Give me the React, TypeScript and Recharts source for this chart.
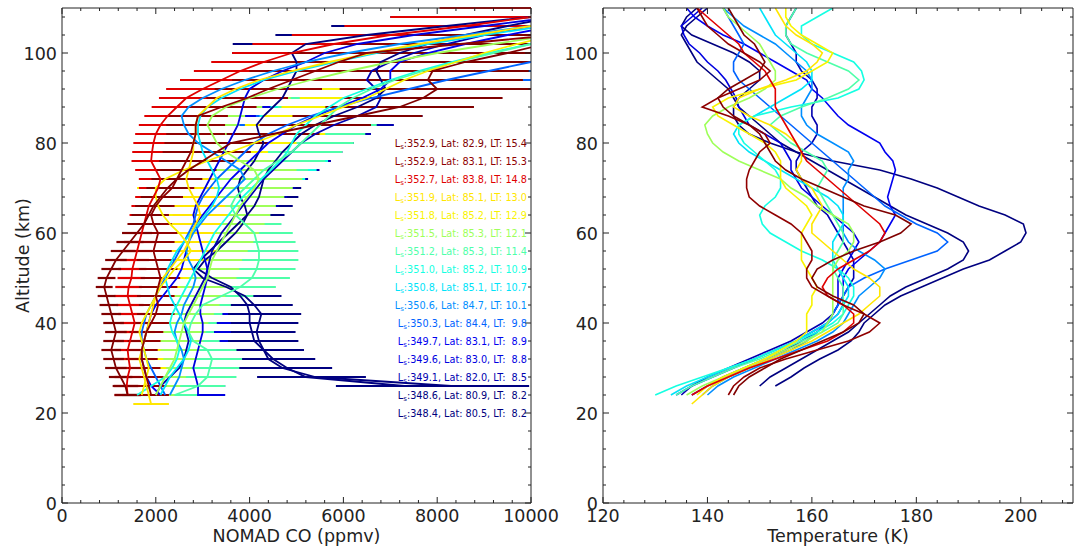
import React from 'react';
import { LineChart, Line, XAxis, YAxis, ErrorBar } from 'recharts';

// ---------- data ----------
const ALTS = [22, 24, 26, 28, 30, 32, 34, 36, 38, 40, 42, 44, 46, 48, 50, 52, 54, 56, 58, 60, 62, 64, 66, 68, 70, 72, 74, 76, 78, 80, 82, 84, 86, 88, 90, 92, 94, 96, 98, 100, 102, 104, 106, 108, 110];
// relative CO retrieval uncertainty per altitude level
const REL_ERR = [0.2, 0.2, 0.2, 0.2, 0.2, 0.2, 0.2, 0.2, 0.2, 0.2, 0.2, 0.2, 0.2, 0.2, 0.2, 0.2, 0.2, 0.2, 0.2, 0.2, 0.2, 0.2, 0.2, 0.2, 0.2, 0.22, 0.22, 0.22, 0.22, 0.22, 0.22, 0.22, 0.22, 0.22, 0.22, 0.26, 0.26, 0.26, 0.26, 0.26, 0.3, 0.3, 0.3, 0.3, 0.3];

const LS = ['352.9', '352.9', '352.7', '351.9', '351.8', '351.5', '351.2', '351.0', '350.8', '350.6', '350.3', '349.7', '349.6', '349.1', '348.6', '348.4'];
const LAT = ['82.9', '83.1', '83.8', '85.1', '85.2', '85.3', '85.3', '85.2', '85.1', '84.7', '84.4', '83.1', '83.0', '82.0', '80.9', '80.5'];
const LT = ['15.4', '15.3', '14.8', '13.0', '12.9', '12.1', '11.4', '10.9', '10.7', '10.1', ' 9.8', ' 8.9', ' 8.8', ' 8.5', ' 8.2', ' 8.2'];
const LEGEND_ALTS = [80, 76, 72, 68, 64, 60, 56, 52, 48, 44, 40, 36, 32, 28, 24, 20];
const COLORS = ['#800000', '#900000', '#e00000', '#ffe600', '#f9f300', '#9eff59', '#4effa9', '#15ffe2', '#00e3f9', '#008eff', '#0063ff', '#0000f0', '#0000e0', '#0000b0', '#000080', '#000080'];

const CO_START = [24, 24, 24, 22, 24, 24, 24, 24, 24, 24, 24, 24, 24, 24, 26, 26];
const CO_0 = [1400, 1350, 1250, 1150, 1100, 1050, 1100, 1150, 1100, 1050, 1000, 950, 900, 950, 1050, 1150, 1300, 1450, 1600, 1750, 1850, 1950, 2100, 2250, 2450, 2700, 3000, 3300, 3600, 4500, 5400, 6300, 7200, 7700, 8000, 7800, 7900, 8600, 9500, 10300, 11000];
const CO_1 = [1900, 1850, 1800, 1750, 1700, 1700, 1750, 1800, 1900, 2000, 2050, 2000, 2050, 2100, 2050, 2000, 1950, 2000, 2050, 1950, 1900, 2000, 2150, 2350, 2450, 2550, 2650, 2750, 2800, 2850, 2850, 2900, 3400, 3950, 4400, 4900, 5400, 5900, 6500, 8500, 10500];
const CO_2 = [1400, 1380, 1400, 1450, 1420, 1400, 1450, 1500, 1550, 1500, 1450, 1400, 1420, 1480, 1500, 1550, 1600, 1650, 1700, 1750, 1800, 1850, 1950, 2050, 2100, 2000, 1900, 1920, 1950, 2000, 2100, 2250, 2450, 2650, 3000, 3400, 3800, 4300, 4900, 5800, 7000, 8600, 10000, 11500];
const CO_3 = [1900, 1850, 1800, 1750, 1700, 1650, 1700, 1750, 1800, 1850, 1900, 1950, 2000, 2050, 2150, 2300, 2450, 2600, 2700, 2750, 2850, 2950, 2900, 2800, 2700, 2650, 2700, 2750, 2800, 2800, 2850, 2850, 2900, 3100, 3300, 3700, 4200, 4900, 5700, 6600, 7600, 8800, 10000];
const CO_4 = [1700, 1750, 1800, 1850, 1800, 1750, 1700, 1650, 1700, 1800, 1900, 2000, 2100, 2250, 2400, 2600, 2750, 2650, 2500, 2300, 2150, 2050, 2000, 2000, 2200, 2600, 3100, 3600, 4100, 4600, 5000, 5500, 6000, 6500, 6900, 7300, 7800, 8400, 9000, 9700, 10500];
const CO_5 = [2000, 2100, 2200, 2300, 2400, 2450, 2500, 2550, 2600, 2700, 2800, 2900, 3000, 3100, 3150, 3200, 3300, 3400, 3500, 3600, 3700, 3800, 3950, 4100, 4200, 4100, 3800, 3500, 3300, 3200, 3100, 3200, 3500, 4000, 4600, 5300, 6100, 7000, 8000, 9200, 10500];
const CO_6 = [2400, 2900, 3100, 3150, 3200, 3100, 2800, 2700, 2750, 2850, 3000, 3400, 3800, 4050, 4150, 4200, 4200, 4150, 4100, 3900, 3700, 3600, 3700, 3900, 4100, 4300, 4600, 4900, 5100, 5300, 5500, 5700, 5900, 6200, 6600, 7100, 7700, 8400, 9200, 10000];
const CO_7 = [1600, 1900, 2200, 2350, 2450, 2500, 2450, 2350, 2300, 2350, 2450, 2550, 2650, 2750, 2850, 2950, 3050, 3150, 3250, 3400, 3550, 3700, 3850, 4050, 4250, 4450, 4650, 4800, 4900, 5000, 5200, 5400, 5700, 6000, 6500, 7000, 7600, 8300, 9100, 10000];
const CO_8 = [2100, 2200, 2300, 2450, 2600, 2700, 2750, 2700, 2600, 2500, 2400, 2300, 2250, 2200, 2250, 2350, 2450, 2600, 2750, 2900, 3050, 3200, 3300, 3350, 3300, 3200, 3100, 3000, 2950, 2900, 2900, 2950, 3100, 3400, 3800, 4300, 5000, 5800, 6700, 7800, 9000, 10300];
const CO_9 = [2300, 2400, 2500, 2550, 2600, 2550, 2450, 2400, 2450, 2550, 2600, 2700, 2800, 2850, 2800, 2700, 2650, 2700, 2800, 2950, 3100, 3300, 3500, 3700, 3900, 3800, 3500, 3200, 2900, 2700, 2600, 2550, 2700, 3000, 3400, 3900, 4500, 5200, 6100, 7200, 8600, 10000];
const CO_10 = [2200, 2100, 2000, 1900, 1800, 1750, 1700, 1700, 1750, 1800, 1900, 2000, 2100, 2200, 2300, 2400, 2500, 2600, 2700, 2800, 2850, 2900, 3000, 3150, 3300, 3500, 3700, 3900, 4100, 4400, 4800, 5300, 5900, 6600, 7400, 8200, 9100, 10000];
const CO_11 = [2100, 1900, 1800, 1750, 1700, 1700, 1750, 1800, 1850, 1900, 2000, 2150, 2300, 2450, 2550, 2600, 2650, 2700, 2750, 2850, 3000, 3150, 3300, 3450, 3600, 3800, 4000, 4200, 4400, 4700, 5000, 5400, 5900, 6400, 6800, 7000, 7000, 7200, 7800, 8600, 9500, 10500];
const CO_12 = [2900, 2900, 2850, 2800, 2850, 2900, 2950, 3000, 3000, 2950, 2950, 3000, 3050, 3100, 3100, 3050, 3000, 2950, 2900, 2850, 2800, 2850, 2950, 3050, 3150, 3250, 3350, 3450, 3550, 3650, 3750, 3800, 3850, 3900, 4000, 4300, 4700, 5200, 5600, 6300, 7500, 9000, 10500];
const CO_13 = [2000, 2100, 2300, 2500, 2600, 2650, 2700, 2650, 2600, 2650, 2750, 2850, 2950, 3050, 3100, 3150, 3200, 3300, 3400, 3550, 3700, 3850, 4000, 4150, 4300, 4500, 4700, 4900, 5100, 5400, 5800, 6300, 6700, 6800, 6700, 6500, 6600, 7000, 7500, 8200, 9000, 10000];
const CO_14 = [7300, 5200, 4800, 4500, 4300, 4100, 4050, 4000, 4000, 3950, 3800, 3600, 3200, 2900, 3050, 3300, 3500, 3700, 3850, 3950, 3900, 3800, 3750, 3800, 3950, 4100, 4200, 4300, 4200, 4150, 4300, 4500, 4700, 4800, 4900, 5000, 5000, 4900, 5200, 6500, 8200, 10000];
const CO_15 = [8300, 5400, 4700, 4400, 4300, 4200, 4150, 4200, 4250, 4100, 3900, 3500, 3000, 2800, 2950, 3150, 3350, 3550, 3750, 3950, 4100, 4200, 4250, 4300, 4400, 4550, 4700, 4900, 5100, 5400, 5800, 6300, 6700, 6900, 6800, 6700, 6800, 7200, 7800, 8600, 9500, 10500];
const CO_PROFILES = [CO_0, CO_1, CO_2, CO_3, CO_4, CO_5, CO_6, CO_7, CO_8, CO_9, CO_10, CO_11, CO_12, CO_13, CO_14, CO_15];

const T_START = [24, 24, 24, 22, 24, 24, 24, 24, 24, 24, 24, 24, 24, 24, 26, 26];
const T_0 = [145, 146, 148, 151, 154, 158, 162, 166, 169, 170, 168, 164, 161, 160, 161, 164, 168, 173, 177, 179, 176, 170, 166, 162, 158, 155, 153, 152, 151, 150, 148, 145, 143, 142, 144, 147, 150, 151, 150, 149, 147, 146, 145, 144];
const T_1 = [144, 145, 147, 150, 155, 161, 167, 171, 173, 170, 166, 163, 160, 159, 159, 160, 160, 159, 158, 156, 153, 150, 148, 147.5, 147.5, 148, 149, 150, 152, 151, 148, 144, 139, 142, 146, 150, 152, 150, 147, 144, 142, 140, 139, 138];
const T_2 = [137, 140, 144, 148, 153, 158, 163, 166, 168, 168, 166, 163, 162, 163, 165, 168, 171, 173, 174, 173, 171, 169, 167, 165, 163, 161, 159, 158, 157, 156, 155, 154, 153, 153, 153, 152, 151, 149, 147, 146, 144, 142, 140, 138];
const T_3 = [137, 139, 141, 144, 148, 152, 156, 160, 163, 166, 169, 171, 173, 173, 171, 168, 166, 164, 162, 160, 160, 161, 162, 161, 160, 158, 157, 158, 158, 157, 155, 152, 148, 145, 146, 150, 155, 159, 161, 162, 160, 157, 155, 154, 153];
const T_4 = [138, 140, 143, 147, 151, 154, 157, 159, 159, 159, 160, 160, 161, 160, 159, 158, 158, 158, 158, 159, 160, 159, 157, 155, 154, 154, 154, 153, 151, 148, 145, 142, 141, 144, 150, 157, 160, 163, 164, 161, 158, 156, 155, 155];
const T_5 = [136, 139, 143, 147, 151, 155, 159, 162, 163, 164, 164, 164, 164, 164, 164, 165, 167, 168, 168, 167, 164, 161, 159, 156, 154, 150, 146, 143, 141, 140, 139.5, 141, 144, 148, 151, 153, 153, 152, 151, 150, 148, 146, 144, 143];
const T_6 = [134, 137, 141, 145, 150, 154, 158, 162, 165, 166, 166, 166, 166, 165, 164, 164, 165, 166, 166, 165, 164, 163, 162, 161, 162, 163, 162, 159, 156, 154, 152, 154, 158, 163, 167, 169, 167, 163, 159, 156, 155, 155, 156, 157];
const T_7 = [130, 134, 139, 144, 149, 153, 157, 161, 164, 166, 167, 168, 168, 167, 165, 162, 158, 155, 152, 150.5, 150, 151, 153, 154, 154, 153, 151, 149, 147, 146, 146, 149, 156, 165, 169, 170, 169.5, 168, 164, 160, 158, 158, 161, 164];
const T_8 = [133, 136, 140, 144, 149, 153, 157, 160, 163, 165, 166, 167, 167, 166, 165, 164, 164, 164, 165, 166, 166, 165, 163, 160, 157, 154, 151, 148, 146, 145, 146, 149, 152, 155, 158, 160, 160, 159, 157, 155, 153, 152, 151, 150];
const T_9 = [140, 142, 145, 149, 153, 157, 161, 164, 166, 167, 168, 169, 171, 173, 174, 172, 169, 167, 166, 166, 166, 166, 166, 166, 167, 167, 168, 167, 164, 161, 159, 158, 158, 159, 160, 160, 159, 157, 155, 153, 150, 147, 145, 143];
const T_10 = [139, 141, 144, 148, 152, 156, 159, 161, 163, 164, 165, 166, 167, 170, 174, 179, 184, 186, 184, 180, 177, 174, 172, 170, 168, 166, 164, 162, 160, 158, 156, 154, 152, 150, 148, 146, 145, 145, 146, 147, 146, 145, 144, 143];
const T_11 = [134, 137, 141, 145, 149, 153, 157, 160, 163, 165, 166, 166, 166, 166, 167, 169, 171, 173, 174, 175, 176, 175, 174.5, 175, 175.5, 176, 175.5, 174, 173, 170, 167, 165, 163.5, 162, 160, 159, 156, 153, 150, 147, 143, 140, 137.5, 136];
const T_12 = [137, 140, 143, 147, 151, 155, 158, 161, 163, 164, 165, 165, 165, 165, 166, 167, 168, 169, 168, 166, 164, 162, 160, 158, 157, 156, 156, 155, 154, 151, 148, 147, 146, 145.5, 144.5, 143.5, 142, 140, 138.5, 136.5, 135.5, 135, 137, 139];
const T_13 = [135, 137, 140, 144, 148, 152, 156, 159, 162, 164, 165, 166, 167, 168, 168, 168, 167, 166, 165, 164, 163, 161, 160, 159, 158, 157, 157, 158, 160, 161, 161, 160, 160, 161, 161, 160, 158, 157, 157, 156, 155, 155, 156, 157];
const T_14 = [150, 152, 155, 158, 161, 164, 167, 169, 171, 173, 175, 178, 182, 186, 189, 190, 189, 186, 182, 178, 175, 172, 169, 166, 163, 160, 157, 154, 152, 150, 148, 146, 145, 144, 142, 140, 138, 137, 136, 135, 136, 138, 140];
const T_15 = [153, 156, 158.5, 161.5, 165, 167.5, 169, 170, 172, 174, 177, 181, 185, 189, 194, 197, 200, 201, 200.5, 197, 192, 188, 184, 179, 173, 164, 157, 152, 148, 146, 145, 145, 146, 148, 150, 150, 148, 145, 141, 137, 135, 136, 138];
const T_PROFILES = [T_0, T_1, T_2, T_3, T_4, T_5, T_6, T_7, T_8, T_9, T_10, T_11, T_12, T_13, T_14, T_15];

const CO_DOMAIN: [number, number] = [0, 10000];
const CO_MAJOR = [0, 2000, 4000, 6000, 8000, 10000];
const ALT_MAJOR = [0, 20, 40, 60, 80, 100];
const T_MAJOR = [120, 140, 160, 180, 200];

// ---------- tables ----------
function buildRows(profiles: number[][], starts: number[], withErr: boolean) {
  return ALTS.map((alt, k) => {
    const row: Record<string, any> = { alt };
    profiles.forEach((vals, i) => {
      const j = (alt - starts[i]) / 2;
      if (j >= 0 && j < vals.length) {
        const v = vals[j];
        row['v' + i] = v;
        if (withErr) {
          const err = v * REL_ERR[k];
          // the plotted bar is cut at the panel edge, like the reference
          if (v - err < CO_DOMAIN[1]) row['e' + i] = [err, Math.min(err, CO_DOMAIN[1] - v)];
        }
      }
    });
    return row;
  });
}
const CO_ROWS = buildRows(CO_PROFILES, CO_START, true);
const T_ROWS = buildRows(T_PROFILES, T_START, false);

const range = (a: number, b: number, s: number) => {
  const out: number[] = [];
  for (let v = a; v <= b + 1e-9; v += s) out.push(v);
  return out;
};
const CO_TICKS = range(0, 10000, 400);
const ALT_TICKS = range(0, 108, 4);
const T_TICKS = range(120, 208, 4);

// ---------- styling ----------
const FONT = 'DejaVu Sans, Verdana, sans-serif';
const INK = '#222';
const TICK_FS = 17.5;

type Side = 'bottom' | 'left' | 'top' | 'right';
function tickRenderer(side: Side, majors: number[], withLabel: boolean) {
  return (props: any) => {
    const { x, y, payload } = props;
    const v = Number(payload.value);
    const isMajor = majors.includes(v);
    const len = isMajor ? 6 : 3;
    let x2 = x;
    let y2 = y;
    if (side === 'bottom') y2 = y - len;
    if (side === 'top') y2 = y + len;
    if (side === 'left') x2 = x + len;
    if (side === 'right') x2 = x - len;
    return (
      <g>
        <line x1={x} y1={y} x2={x2} y2={y2} stroke={INK} strokeWidth={1} />
        {withLabel && isMajor && side === 'bottom' && (
          <text x={x} y={y + 19} textAnchor="middle" fontFamily={FONT} fontSize={TICK_FS} fill={INK}>
            {String(v)}
          </text>
        )}
        {withLabel && isMajor && side === 'left' && (
          <text x={x - 5} y={y + 6.5} textAnchor="end" fontFamily={FONT} fontSize={TICK_FS} fill={INK}>
            {String(v)}
          </text>
        )}
      </g>
    );
  };
}

const axisCommon = {
  tickLine: false,
  tickSize: 0,
  tickMargin: 0,
  interval: 0 as const,
  allowDataOverflow: true,
  axisLine: { stroke: INK, strokeWidth: 1 },
};

const ORDER = [15, 14, 13, 12, 11, 10, 9, 8, 7, 6, 5, 4, 3, 2, 1, 0];

function COChart() {
  return (
    <LineChart layout="vertical" width={600} height={549} data={CO_ROWS} margin={{ top: 7, right: 68, bottom: 45, left: 61 }}>
      <XAxis xAxisId={0} type="number" orientation="bottom" height={1} domain={CO_DOMAIN} ticks={CO_TICKS} tick={tickRenderer('bottom', CO_MAJOR, true)} {...axisCommon} />
      <XAxis xAxisId="top" type="number" orientation="top" height={1} domain={CO_DOMAIN} ticks={CO_TICKS} tick={tickRenderer('top', CO_MAJOR, false)} {...axisCommon} />
      <YAxis yAxisId={0} type="number" dataKey="alt" orientation="left" width={1} reversed domain={[0, 110]} ticks={ALT_TICKS} tick={tickRenderer('left', ALT_MAJOR, true)} {...axisCommon} />
      <YAxis yAxisId="right" type="number" dataKey="alt" orientation="right" width={1} reversed domain={[0, 110]} ticks={ALT_TICKS} tick={tickRenderer('right', ALT_MAJOR, false)} {...axisCommon} />
      {ORDER.map((i) => (
        <Line key={'bar' + i} xAxisId={0} yAxisId={0} dataKey={'v' + i} stroke="none" dot={false} activeDot={false} isAnimationActive={false}>
          <ErrorBar dataKey={'e' + i} direction="x" width={0} stroke={COLORS[i]} strokeWidth={2.2} isAnimationActive={false} />
        </Line>
      ))}
      {ORDER.map((i) => (
        <Line key={'line' + i} xAxisId={0} yAxisId={0} dataKey={'v' + i} stroke={COLORS[i]} strokeWidth={1.8} dot={false} activeDot={false} isAnimationActive={false} />
      ))}
    </LineChart>
  );
}

function TChart() {
  return (
    <LineChart layout="vertical" width={539} height={549} data={T_ROWS} margin={{ top: 7, right: 5, bottom: 45, left: 62 }}>
      <XAxis xAxisId={0} type="number" orientation="bottom" height={1} domain={[120, 210]} ticks={T_TICKS} tick={tickRenderer('bottom', T_MAJOR, true)} {...axisCommon} />
      <XAxis xAxisId="top" type="number" orientation="top" height={1} domain={[120, 210]} ticks={T_TICKS} tick={tickRenderer('top', T_MAJOR, false)} {...axisCommon} />
      <YAxis yAxisId={0} type="number" dataKey="alt" orientation="left" width={1} reversed domain={[0, 110]} ticks={ALT_TICKS} tick={tickRenderer('left', ALT_MAJOR, true)} {...axisCommon} />
      <YAxis yAxisId="right" type="number" dataKey="alt" orientation="right" width={1} reversed domain={[0, 110]} ticks={ALT_TICKS} tick={tickRenderer('right', ALT_MAJOR, false)} {...axisCommon} />
      {ORDER.map((i) => (
        <Line key={'t' + i} xAxisId={0} yAxisId={0} dataKey={'v' + i} stroke={COLORS[i]} strokeWidth={1.6} dot={false} activeDot={false} isAnimationActive={false} />
      ))}
    </LineChart>
  );
}

function Overlay() {
  const altToY = (a: number) => 503 - a * 4.5;
  return (
    <svg width={1079} height={549} style={{ position: 'absolute', left: 0, top: 0, pointerEvents: 'none' }}>
      <text x={296.5} y={542} textAnchor="middle" fontFamily={FONT} fontSize={TICK_FS} fill={INK}>NOMAD CO (ppmv)</text>
      <text x={838} y={542} textAnchor="middle" fontFamily={FONT} fontSize={TICK_FS} fill={INK}>Temperature (K)</text>
      <text x={29} y={255.5} textAnchor="middle" fontFamily={FONT} fontSize={TICK_FS} fill={INK} transform="rotate(-90 29 255.5)">Altitude (km)</text>
      {LS.map((ls, i) => (
        <text key={i} x={527} y={altToY(LEGEND_ALTS[i]) + 3.5} textAnchor="end" fontFamily={FONT} fontSize={9.7} fill={COLORS[i]} style={{ whiteSpace: 'pre' }}>
          L<tspan fontSize={7} dy={2.5}>s</tspan>
          <tspan dy={-2.5}>{`:${ls}, Lat: ${LAT[i]}, LT: ${LT[i]}`}</tspan>
        </text>
      ))}
    </svg>
  );
}

export default function App() {
  return (
    <div style={{ position: 'absolute', left: 0, top: 0, width: 1079, height: 549, background: '#fff', overflow: 'hidden' }}>
      <div style={{ position: 'absolute', left: 0, top: 0 }}>
        <COChart />
      </div>
      <div style={{ position: 'absolute', left: 540, top: 0 }}>
        <TChart />
      </div>
      <Overlay />
    </div>
  );
}
